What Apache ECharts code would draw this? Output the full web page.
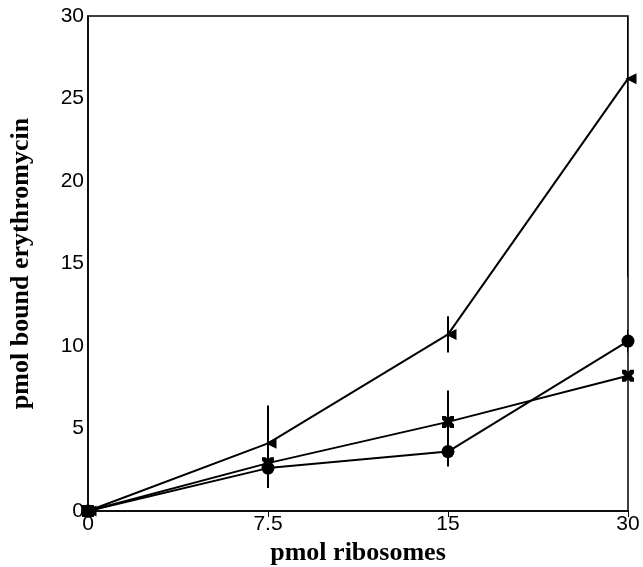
<!DOCTYPE html>
<html>
<head>
<meta charset="utf-8">
<script src="https://cdn.jsdelivr.net/npm/echarts@6/dist/echarts.min.js"></script>
<style>
html,body{margin:0;padding:0;background:#fff;}
#chart{width:643px;height:567px;}
</style>
</head>
<body>
<div id="chart"></div>
<script>
// x categories (pmol ribosomes)
var ribosomes = ['0', '7.5', '15', '30'];
// series values (pmol bound erythromycin)
var triData = [0, 4.1, 10.7, 26.2];
var triErr = [0, 2.3, 1.1, 12];
var circleData = [0, 2.6, 3.6, 10.3];
var circleErr = [0, 1.2, 0.9, 0.7];
var crossData = [0, 2.9, 5.4, 8.2];
var crossErr = [0, 0, 1.9, 0];

var chart = echarts.init(document.getElementById('chart'));

function errBars(vals, errs) {
    var out = [];
    for (var i = 0; i < vals.length; i++) {
        if (errs[i] > 0) out.push([i, vals[i] - errs[i], vals[i] + errs[i]]);
    }
    return out;
}

function renderErr(params, api) {
    var lo = api.coord([api.value(0), api.value(1)]);
    var hi = api.coord([api.value(0), api.value(2)]);
    return {
        type: 'line',
        shape: { x1: lo[0], y1: lo[1], x2: hi[0], y2: hi[1] },
        style: { stroke: '#000', lineWidth: 2 }
    };
}

var crossPath = 'path://M0,0 L3,0 L5,2 L7,0 L10,0 L10,3 L8,5 L10,7 L10,10 L7,10 L5,8 L3,10 L0,10 L0,7 L2,5 L0,3 Z';

var option = {
    animation: false,
    grid: {
        left: 88, right: 15, top: 16, bottom: 56,
        outerBoundsMode: 'none',
        containLabel: false,
        show: true, borderColor: '#000', borderWidth: 1.5
    },
    xAxis: {
        type: 'category',
        data: ribosomes,
        boundaryGap: false,
        name: 'pmol ribosomes',
        nameLocation: 'middle',
        nameGap: 28,
        nameTextStyle: { fontFamily: 'Liberation Serif', fontSize: 26, fontWeight: 'bold', color: '#000' },
        axisLine: { lineStyle: { color: '#000', width: 1.5 } },
        axisTick: { show: true, inside: false, length: 6, lineStyle: { color: '#000' } },
        axisLabel: { fontFamily: 'Liberation Sans', fontSize: 21, color: '#000', margin: 3 },
        splitLine: { show: false }
    },
    yAxis: {
        type: 'value',
        min: 0, max: 30, interval: 5,
        name: 'pmol bound erythromycin',
        nameLocation: 'middle',
        nameGap: 54,
        nameTextStyle: { fontFamily: 'Liberation Serif', fontSize: 26, fontWeight: 'bold', color: '#000' },
        axisLine: { show: true, lineStyle: { color: '#000', width: 1.5 } },
        axisTick: { show: false },
        axisLabel: { fontFamily: 'Liberation Sans', fontSize: 21, color: '#000', margin: 4 },
        splitLine: { show: false }
    },
    series: [
        {
            type: 'line', data: triData,
            symbol: 'triangle', symbolRotate: 90, symbolSize: 11, symbolOffset: [3, 0],
            lineStyle: { color: '#000', width: 2 },
            itemStyle: { color: '#000' }
        },
        {
            type: 'line', data: circleData,
            symbol: 'circle', symbolSize: 13,
            lineStyle: { color: '#000', width: 2 },
            itemStyle: { color: '#000' }
        },
        {
            type: 'line', data: crossData,
            symbol: crossPath, symbolSize: 12,
            lineStyle: { color: '#000', width: 2 },
            itemStyle: { color: '#000' }
        },
        { type: 'custom', renderItem: renderErr, data: errBars(triData, triErr), clip: true, z: 1 },
        { type: 'custom', renderItem: renderErr, data: errBars(circleData, circleErr), clip: true, z: 1 },
        { type: 'custom', renderItem: renderErr, data: errBars(crossData, crossErr), clip: true, z: 1 }
    ]
};

chart.setOption(option);
</script>
</body>
</html>
